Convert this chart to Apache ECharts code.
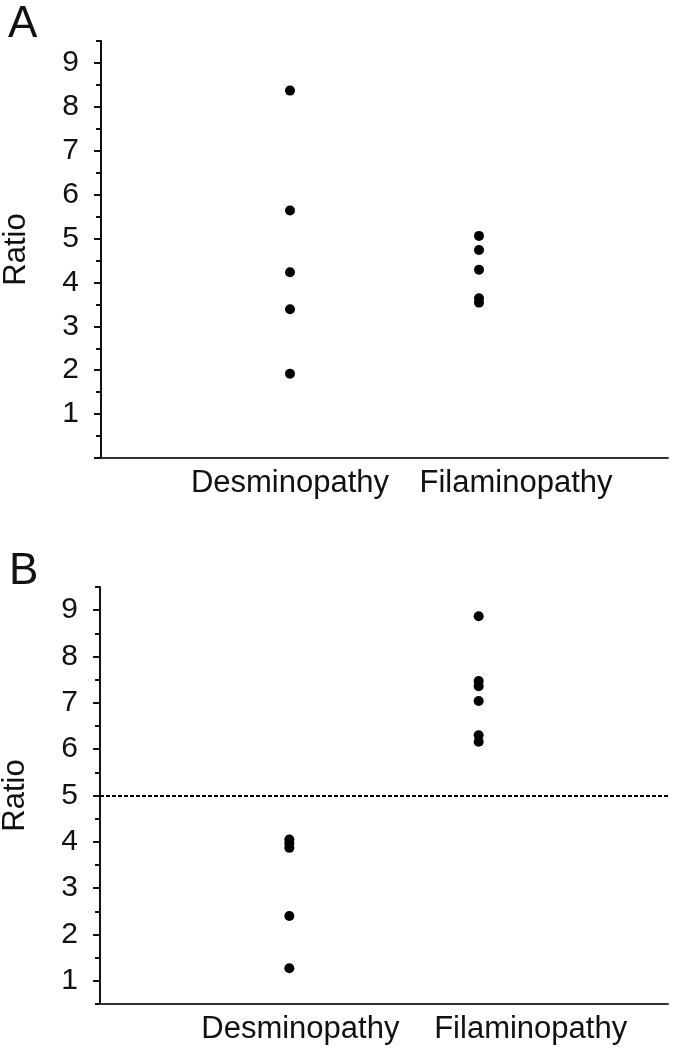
<!DOCTYPE html>
<html>
<head>
<meta charset="utf-8">
<script src="https://cdn.jsdelivr.net/npm/echarts@6/dist/echarts.min.js"></script>
<style>
html,body{margin:0;padding:0;background:#fff;}
#chart{width:673px;height:1050px;}
</style>
</head>
<body>
<div id="chart"></div>
<script>
// ---- data ----
var categories = ['Desminopathy', 'Filaminopathy'];
var panelADesmin = [8.37, 5.64, 4.23, 3.39, 1.92];
var panelAFilamin = [5.06, 4.74, 4.29, 3.64, 3.54];
var panelBDesmin = [4.05, 3.97, 3.87, 2.40, 1.27];
var panelBFilamin = [8.87, 7.47, 7.36, 7.04, 6.30, 6.16];
var yLabelValues = [1, 2, 3, 4, 5, 6, 7, 8, 9];
var majorTicksA = [0, 1, 2, 3, 4, 5, 6, 7, 8, 9];
var minorTicksA = [0.5, 1.5, 2.5, 3.5, 4.5, 5.5, 6.5, 7.5, 8.5, 9.5];
var majorTicksB = [1, 2, 3, 4, 5, 6, 7, 8, 9];
var minorTicksB = [0.5, 1.5, 2.5, 3.5, 4.5, 5.5, 6.5, 7.5, 8.5, 9.5];
var thresholdB = 5;
var panelLetters = ['A', 'B'];
var yName = 'Ratio';

function pts(xpos, arr) { return arr.map(function (v) { return [xpos, v]; }); }

var FONT = '"Liberation Sans", Arial, sans-serif';
var INK = '#111';

function xAxisFor(grid, offD, offF) {
  return {
    gridIndex: grid, type: 'value', min: 0, max: 3, interval: 1,
    axisLine: { show: true, onZero: false, lineStyle: { color: '#333', width: 2 } },
    axisTick: { show: false }, splitLine: { show: false },
    axisLabel: {
      margin: 10,
      formatter: function (v) {
        if (v === 1) return '{d|' + categories[0] + '}';
        if (v === 2) return '{f|' + categories[1] + '}';
        return '';
      },
      rich: {
        d: { fontSize: 31, fontFamily: FONT, color: INK, padding: offD >= 0 ? [0, 0, 0, 2 * offD] : [0, -2 * offD, 0, 0] },
        f: { fontSize: 31, fontFamily: FONT, color: INK, padding: [0, 0, 0, 2 * offF] }
      }
    }
  };
}
function yMajor(grid, min, ticks) {
  return {
    gridIndex: grid, type: 'value', min: min, max: 9.5, position: 'left',
    axisLine: { show: true, lineStyle: { color: INK, width: 2 } },
    axisTick: { show: true, length: 7, customValues: ticks, lineStyle: { color: INK, width: 2 } },
    axisLabel: { customValues: yLabelValues, fontSize: 30, fontFamily: FONT, color: INK, margin: 22 },
    splitLine: { show: false },
    name: yName, nameLocation: 'middle', nameRotate: 90, nameGap: 69,
    nameTextStyle: { fontSize: 31, fontFamily: FONT, color: INK }
  };
}
function yMinor(grid, min, ticks) {
  return {
    gridIndex: grid, type: 'value', min: min, max: 9.5, position: 'left',
    axisLine: { show: false },
    axisTick: { show: true, length: 5, customValues: ticks, lineStyle: { color: INK, width: 2 } },
    axisLabel: { show: false }, splitLine: { show: false }
  };
}
function dots(xi, yi, data, extra) {
  var s = {
    type: 'scatter', xAxisIndex: xi, yAxisIndex: yi, data: data,
    symbol: 'circle', symbolSize: 10, itemStyle: { color: '#000', opacity: 1 }, silent: true
  };
  if (extra) for (var k in extra) s[k] = extra[k];
  return s;
}

var option = {
  animation: false,
  backgroundColor: '#fff',
  title: [
    { text: panelLetters[0], left: 3, top: -2, textStyle: { fontSize: 44, fontWeight: 'normal', fontFamily: FONT, color: INK } },
    { text: panelLetters[1], left: 4, top: 545, textStyle: { fontSize: 44, fontWeight: 'normal', fontFamily: FONT, color: INK } }
  ],
  grid: [
    { left: 101, right: 5, top: 41, height: 417, containLabel: false, outerBoundsMode: 'none' },
    { left: 100, right: 5, top: 587, height: 417, containLabel: false, outerBoundsMode: 'none' }
  ],
  xAxis: [xAxisFor(0, 0, 37), xAxisFor(1, 11, 52)],
  yAxis: [yMajor(0, 0, majorTicksA), yMinor(0, 0, minorTicksA), yMajor(1, 0.5, majorTicksB), yMinor(1, 0.5, minorTicksB)],
  series: [
    dots(0, 0, pts(1, panelADesmin)),
    dots(0, 0, pts(2, panelAFilamin)),
    dots(1, 2, pts(1, panelBDesmin), {
      markLine: {
        silent: true, symbol: 'none', label: { show: false },
        lineStyle: { type: [4, 2], color: '#000', width: 2, opacity: 1 },
        data: [{ yAxis: thresholdB }]
      }
    }),
    dots(1, 2, pts(2, panelBFilamin))
  ]
};
var chart = echarts.init(document.getElementById('chart'), null, { renderer: 'canvas' });
chart.setOption(option);
</script>
</body>
</html>
